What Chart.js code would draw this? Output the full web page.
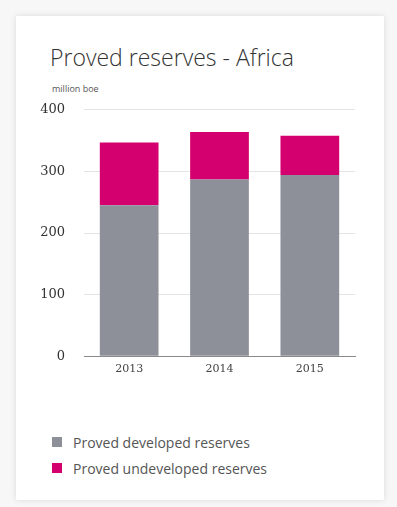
<!DOCTYPE html>
<html>
<head>
<meta charset="utf-8">
<script src="https://cdn.jsdelivr.net/npm/chart.js@4"></script>
<style>
  body { margin: 0; background: #f7f7f7; font-family: "Open Sans", sans-serif; }
  #card {
    position: absolute; left: 16px; top: 16px; width: 368px; height: 484px;
    background: #fff; box-shadow: 0 0 6px rgba(0,0,0,0.12);
  }
  #title {
    position: absolute; left: 34px; top: 25px; font-size: 23px; font-weight: 300;
    color: #333; white-space: nowrap;
  }
  #unit { position: absolute; left: 36px; top: 66px; font-size: 9px; color: #555; }
  #wrap { position: absolute; left: 11px; top: 67px; width: 340px; height: 300px; }
  #legend { position: absolute; left: 36px; top: 413px; font-size: 14px; color: #555; }
  .item { display: flex; align-items: center; height: 26px; }
  .box { width: 10px; height: 10px; margin-right: 11px; }
</style>
</head>
<body>
<div id="card">
  <div id="title">Proved reserves - Africa</div>
  <div id="unit">million boe</div>
  <div id="wrap"><canvas id="reserveChart"></canvas></div>
  <div id="legend"></div>
</div>
<script>
const years = ["2013", "2014", "2015"];
const developed = [245, 287, 294];
const undeveloped = [102, 77, 64];
const yTicks = [0, 100, 200, 300, 400];

const seriesNames = ["Proved developed reserves", "Proved undeveloped reserves"];
const seriesColors = ["#8d9098", "#d5006f"];

let reserveChart;

function drawChart() {
  const ctx = document.getElementById("reserveChart").getContext("2d");

  if (reserveChart) {
    reserveChart.destroy();
  }

  reserveChart = new Chart(ctx, {
    type: "bar",
    data: {
      labels: years,
      datasets: [
        { label: seriesNames[0], data: developed, backgroundColor: seriesColors[0] },
        { label: seriesNames[1], data: undeveloped, backgroundColor: seriesColors[1] }
      ]
    },
    options: {
      responsive: true,
      maintainAspectRatio: false,
      animation: false,
      layout: { padding: { top: 6, right: 12, bottom: 0, left: 0 } },
      datasets: { bar: { barPercentage: 0.65, categoryPercentage: 1 } },
      plugins: { legend: { display: false }, tooltip: { enabled: false } },
      scales: {
        x: {
          stacked: true,
          grid: { display: false, drawTicks: false },
          border: { color: "#8a8a8a", width: 1 },
          ticks: { color: "#444", padding: 6, font: { family: "DejaVu Serif", size: 11 } }
        },
        y: {
          stacked: true,
          min: 0,
          max: 400,
          afterBuildTicks: (scale) => { scale.ticks = yTicks.map(v => ({ value: v })); },
          afterFit: (scale) => { scale.width = 57; },
          grid: { color: "#e4e4e4", drawTicks: false },
          border: { display: false },
          ticks: { color: "#333", padding: 19, font: { family: "DejaVu Serif", size: 13 } }
        }
      }
    }
  });

  const legend = document.getElementById("legend");
  legend.innerHTML = "";
  seriesNames.forEach((name, i) => {
    legend.innerHTML += '<div class="item"><span class="box" style="background:' +
      seriesColors[i] + '"></span>' + name + '</div>';
  });
}

drawChart();
</script>
</body>
</html>
